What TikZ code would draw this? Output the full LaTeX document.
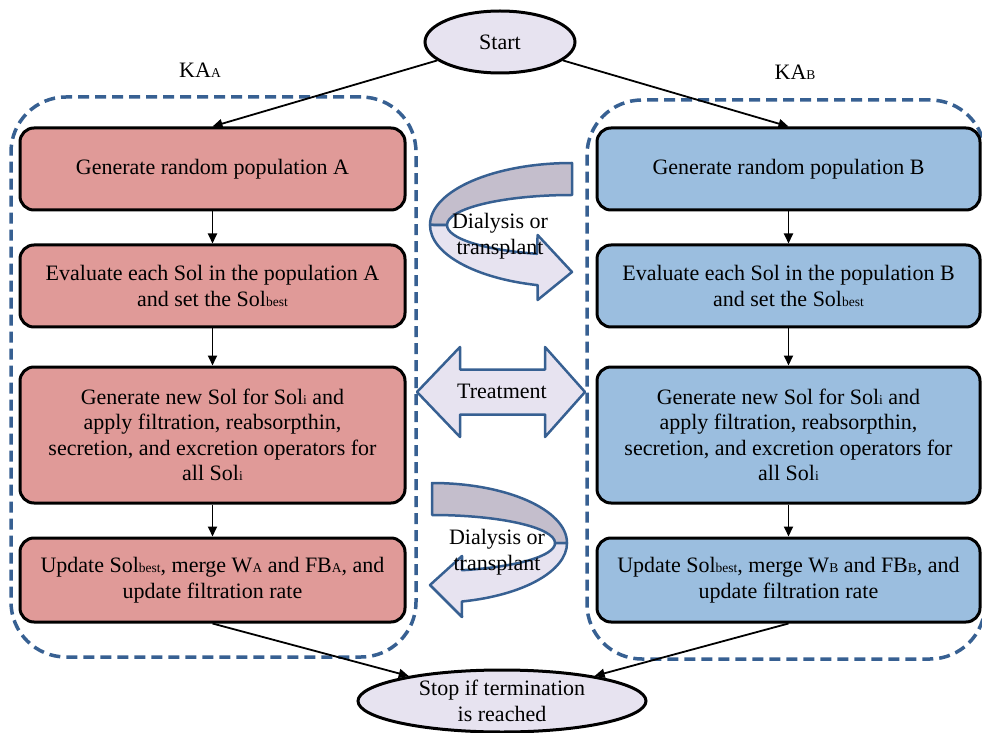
\documentclass[tikz,border=0pt]{standalone}
\usepackage{fontspec}
\setmainfont{Liberation Serif}
\usetikzlibrary{arrows.meta,shapes.geometric}

\definecolor{boxred}{RGB}{224,154,152}
\definecolor{boxblue}{RGB}{155,190,223}
\definecolor{frameblue}{RGB}{55,96,146}
\definecolor{lavender}{RGB}{231,227,240}
\definecolor{ribbongray}{RGB}{196,190,204}

\newcommand{\lo}[1]{{\fontsize{13.5}{13.5}\selectfont #1}}

\begin{document}
\begin{tikzpicture}[x=1pt, y=1pt, font=\fontsize{22}{25.5}\selectfont,
   step_box/.style={draw=black, line width=3pt, rounded corners=14pt, align=center, minimum height=82pt, inner sep=0pt},
   box_a/.style={step_box, fill=boxred, minimum width=385pt},
   box_b/.style={step_box, fill=boxblue, minimum width=383pt},
   term/.style={ellipse, draw=black, line width=3pt, fill=lavender, align=center, inner sep=0pt},
   frame_style/.style={draw=frameblue, line width=3.5pt, dash pattern=on 11pt off 6pt, rounded corners=55pt, inner sep=0pt},
   flow/.style={draw=black, line width=1.8pt, -{Triangle[length=10pt,width=9pt]}},
   ribbon/.style={draw=frameblue, line width=2.5pt, line join=round}]
	\useasboundingbox (0,0) rectangle (982,732);

	\node [frame_style, minimum width=405pt, minimum height=560pt] (frameA) at (213.5,355) {};
	\node [frame_style, minimum width=398pt, minimum height=559pt] (frameB) at (786,352.5) {};
	\node (labelA) at (200,662) {KA\lo{A}};
	\node (labelB) at (795,660) {KA\lo{B}};

	% exchange between the two groups
	\filldraw [ribbon, fill=ribbongray] (572,569) arc[start angle=90, end angle=180, x radius=142, y radius=62]
	  -- (447,507) arc[start angle=180, end angle=90, x radius=125, y radius=30] -- cycle;
	\filldraw [ribbon, fill=lavender] (430,507) arc[start angle=180, end angle=256, x radius=142, y radius=62]
	  -- (537.6,432) -- (572,460) -- (537.6,497) -- (536.9,478.2)
	  arc[start angle=253.7, end angle=180, x radius=125, y radius=30] -- cycle;
	\node [align=center] (dialAB) at (500,496) {Dialysis or\\transplant};

	\filldraw [ribbon, fill=lavender] (417,340) -- (460,385) -- (460,362.5) -- (545,362.5) -- (545,385) -- (585,340)
	  -- (545,295) -- (545,317.5) -- (460,317.5) -- (460,295) -- cycle;
	\node (treat) at (502,341) {Treatment};

	\filldraw [ribbon, fill=ribbongray] (432,249) arc[start angle=90, end angle=0, x radius=135, y radius=60]
	  -- (555,189) arc[start angle=0, end angle=90, x radius=123, y radius=28] -- cycle;
	\filldraw [ribbon, fill=lavender] (567,189) arc[start angle=0, end angle=-77.2, x radius=135, y radius=60]
	  -- (462,115) -- (430,147) -- (462,176) -- (462,161.8)
	  arc[start angle=-75.9, end angle=0, x radius=123, y radius=28] -- cycle;
	\node [align=center] (dialBA) at (497,180) {Dialysis or\\transplant};

	\node [term, minimum width=150pt, minimum height=62pt] (start) at (500,690) {Start};
	\node [term, minimum width=288pt, minimum height=62pt] (stop) at (502,31) {Stop if termination\\is reached};

	\node [box_a] (genA) at (212.5,563) {Generate random population A};
	\node [box_a] (evalA) at (212.5,446) {Evaluate each Sol in the population A\\and set the Sol\lo{best}};
	\node [box_a, minimum height=136pt] (newA) at (212.5,297) {Generate new Sol for Sol\lo{i} and\\apply filtration, reabsorpthin,\\secretion, and excretion operators for\\all Sol\lo{i}};
	\node [box_a, minimum height=84pt] (updA) at (212.5,152) {Update Sol\lo{best}, merge W\lo{A} and FB\lo{A}, and\\update filtration rate};

	\node [box_b] (genB) at (788.5,563) {Generate random population B};
	\node [box_b] (evalB) at (788.5,446) {Evaluate each Sol in the population B\\and set the Sol\lo{best}};
	\node [box_b, minimum height=136pt] (newB) at (788.5,297) {Generate new Sol for Sol\lo{i} and\\apply filtration, reabsorpthin,\\secretion, and excretion operators for\\all Sol\lo{i}};
	\node [box_b, minimum height=84pt] (updB) at (788.5,152) {Update Sol\lo{best}, merge W\lo{B} and FB\lo{B}, and\\update filtration rate};

	\foreach \from/\to in {
		start/genA.north,
		start/genB.north,
		genA/evalA,
		evalA/newA,
		newA/updA,
		genB/evalB,
		evalB/newB,
		newB/updB,
		updA.south/stop,
		updB.south/stop}
	  \draw [flow] (\from) -- (\to);

\end{tikzpicture}
\end{document}
